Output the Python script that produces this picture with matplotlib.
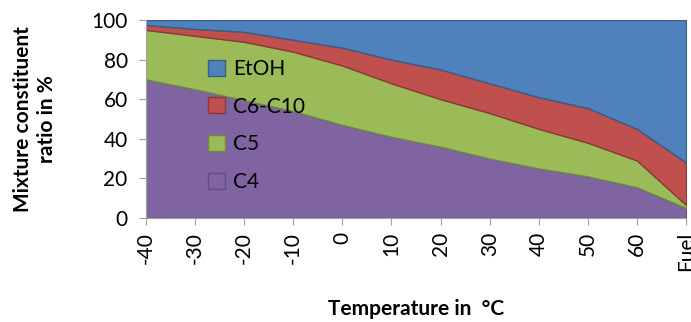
import matplotlib.pyplot as plt
import numpy as np

plt.rcParams["font.family"] = ["Lato", "DejaVu Sans"]

temps = ["-40", "-30", "-20", "-10", "0", "10", "20", "30", "40", "50", "60", "Fuel"]
c4 = [70, 65, 59.5, 54, 47, 41, 36, 30, 25, 21, 15.5, 5]
c5 = [25, 27, 29.5, 30, 30, 27, 24, 23, 20, 17, 13.5, 1.5]
c6_c10 = [2.5, 3.5, 5, 6, 9, 12, 15, 15, 16, 17.5, 16, 21.5]
etoh = [2.5, 4.5, 6, 10, 14, 20, 25, 32, 39, 44.5, 55, 72]

series = [("C4", c4, "#8064A2", "#5F4B8B"),
          ("C5", c5, "#9BBB59", "#71893F"),
          ("C6-C10", c6_c10, "#C0504D", "#8C3836"),
          ("EtOH", etoh, "#4F81BD", "#385D8A")]

fig = plt.figure(figsize=(6.91, 3.22), dpi=100)
ax = fig.add_axes([0.211, 0.323, 0.782, 0.615])

x = np.arange(len(temps))
base = np.zeros(len(temps))
handles = []
for name, vals, fc, ec in series:
    top = base + np.array(vals)
    h = ax.fill_between(x, base, top, facecolor=fc, edgecolor=ec, lw=1.0, label=name)
    handles.append(h)
    base = top

ax.set_xlim(0, len(temps) - 1)
ax.set_ylim(0, 100)
ax.set_xticks(x)
ax.set_xticklabels(temps, rotation=90, fontsize=15)
ax.set_yticks(range(0, 101, 20))
ax.tick_params(axis="y", labelsize=15, length=5, color="#A0A0A0", pad=8)
ax.tick_params(axis="x", length=5, color="#A0A0A0", pad=5)
for s in ["top", "right"]:
    ax.spines[s].set_visible(False)
for s in ["left", "bottom"]:
    ax.spines[s].set_color("#A0A0A0")

ax.set_ylabel("Mixture constituent\nratio in %", fontsize=15, fontweight="bold", labelpad=25)
ax.set_xlabel("Temperature in  \u00b0C", fontsize=15, fontweight="bold", labelpad=20)

ax.legend(handles[::-1], [s[0] for s in series][::-1], loc="upper left",
          bbox_to_anchor=(0.1, 0.845), frameon=False, fontsize=15,
          handlelength=0.8, handleheight=0.8, handletextpad=0.4, labelspacing=0.85,
          borderaxespad=0)

fig.savefig("out.png", dpi=100)
